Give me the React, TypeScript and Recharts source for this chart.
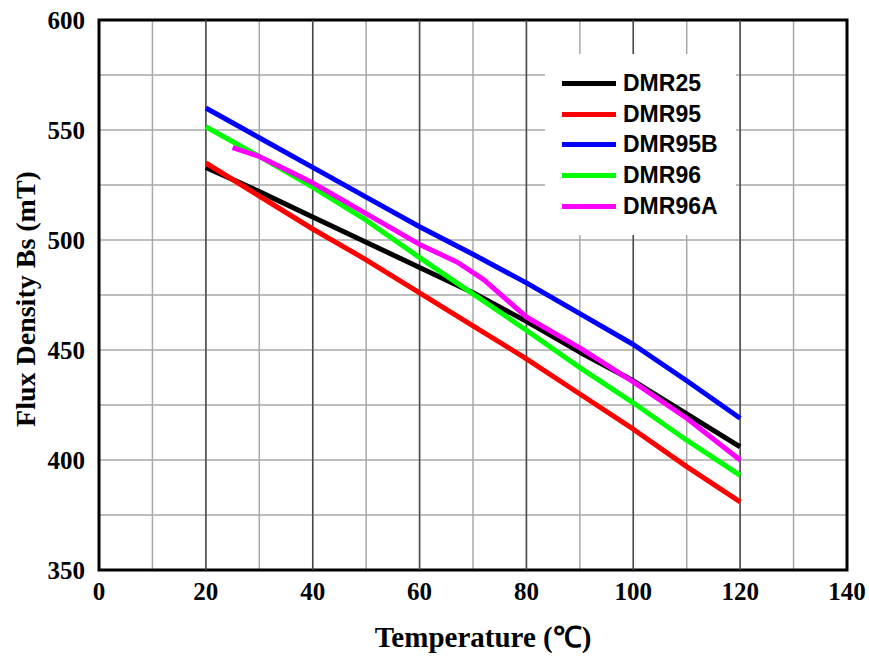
import React from 'react';
import {
  LineChart,
  Line,
  XAxis,
  YAxis,
  CartesianGrid,
  ReferenceLine,
  ReferenceArea,
  Legend,
} from 'recharts';

// temperature points (°C)
const temps = [20, 30, 40, 50, 60, 70, 80, 90, 100, 110, 120];
const temps96A = [25, 30, 40, 50, 60, 67, 72, 80, 90, 100, 110, 120];

// flux density Bs (mT)
const dmr25 = [533, 522, 510.5, 499, 487.5, 476, 463, 449, 436, 421, 406];
const dmr95 = [535, 520, 505, 491, 476, 461, 446, 430, 414, 397, 381];
const dmr95B = [560, 546.5, 533, 519.5, 506, 493.5, 480.5, 466.5, 452.5, 436, 419];
const dmr96 = [551.5, 538, 524, 509, 492, 475.5, 459, 442, 426, 409, 393];
const dmr96A = [542, 538, 526, 512, 498, 490, 482, 465, 451, 435.5, 419, 400];

const xTicks = [0, 10, 20, 30, 40, 50, 60, 70, 80, 90, 100, 110, 120, 130, 140];
const xMajor = [20, 40, 60, 80, 100, 120];
const yTicks = [350, 375, 400, 425, 450, 475, 500, 525, 550, 575, 600];

const toRows = (xs: number[], ys: number[]) => xs.map((t, i) => ({ t, bs: ys[i] }));

const series = [
  { name: 'DMR25', color: '#000000', data: toRows(temps, dmr25) },
  { name: 'DMR95', color: '#ff0000', data: toRows(temps, dmr95) },
  { name: 'DMR95B', color: '#0000ff', data: toRows(temps, dmr95B) },
  { name: 'DMR96', color: '#00ff00', data: toRows(temps, dmr96) },
  { name: 'DMR96A', color: '#ff00ff', data: toRows(temps96A, dmr96A) },
];

const serif = "'Times New Roman', 'Liberation Serif', serif";
const tickStyle = { fontFamily: serif, fontWeight: 700, fontSize: 25, fill: '#000' };

const renderLegend = (props: any) => {
  const { payload } = props;
  return (
    <div style={{ background: '#fff', width: '100%', height: '100%', paddingTop: 14, boxSizing: 'border-box' }}>
      {payload.map((entry: any) => (
        <div key={entry.value} style={{ display: 'flex', alignItems: 'center', height: 30.75 }}>
          <div style={{ marginLeft: 17, width: 54, height: 5, background: entry.color }} />
          <span
            style={{
              marginLeft: 7,
              fontFamily: "Arial, 'Liberation Sans', sans-serif",
              fontWeight: 700,
              fontSize: 23,
              color: '#000',
              lineHeight: 1,
            }}
          >
            {entry.value}
          </span>
        </div>
      ))}
    </div>
  );
};

const YLabel = (props: any) => {
  const { viewBox } = props;
  const x = viewBox.x + 35;
  const y = viewBox.y + viewBox.height / 2 + 4;
  return (
    <text
      x={x}
      y={y}
      transform={`rotate(-90 ${x} ${y})`}
      textAnchor="middle"
      style={{ fontFamily: serif, fontWeight: 700, fontSize: 28, fill: '#000' }}
    >
      Flux Density Bs (mT)
    </text>
  );
};

const XLabel = (props: any) => {
  const { viewBox } = props;
  const x = viewBox.x + viewBox.width / 2 + 10;
  const y = viewBox.y + viewBox.height - 10;
  return (
    <text x={x} y={y} textAnchor="middle" style={{ fontFamily: serif, fontWeight: 700, fontSize: 29, fill: '#000' }}>
      Temperature (℃)
    </text>
  );
};

export default function App() {
  return (
    <div style={{ position: 'fixed', left: 0, top: 0, width: 869, height: 657, background: '#fff' }}>
      <LineChart width={869} height={657} margin={{ top: 20, right: 22, bottom: 0, left: 0 }}>
        <CartesianGrid stroke="#a8a8a8" strokeWidth={1.5} />
        <XAxis
          dataKey="t"
          type="number"
          domain={[0, 140]}
          ticks={xTicks}
          tickFormatter={(v: number) => (v % 20 === 0 ? String(v) : '')}
          axisLine={false}
          tickLine={false}
          tickSize={10}
          tickMargin={2}
          height={87}
          tick={tickStyle}
          interval={0}
          allowDuplicatedCategory={false}
          label={<XLabel />}
        />
        <YAxis
          type="number"
          domain={[350, 600]}
          ticks={yTicks}
          tickFormatter={(v: number) => (v % 50 === 0 ? String(v) : '')}
          axisLine={false}
          tickLine={false}
          tickSize={12}
          tickMargin={2}
          width={99}
          tick={tickStyle}
          interval={0}
          label={<YLabel />}
        />
        {xMajor.map((v) => (
          <ReferenceLine key={v} x={v} stroke="#4a4a4a" strokeWidth={1.5} />
        ))}
        <ReferenceArea x1={0} x2={140} y1={350} y2={600} fill="none" stroke="#000" strokeWidth={3} ifOverflow="visible" />
        {series.map((s) => (
          <Line
            key={s.name}
            data={s.data}
            dataKey="bs"
            name={s.name}
            type="linear"
            stroke={s.color}
            strokeWidth={5}
            strokeLinejoin="round"
            dot={false}
            activeDot={false}
            isAnimationActive={false}
          />
        ))}
        <Legend
          layout="vertical"
          align="center"
          verticalAlign="middle"
          wrapperStyle={{ position: 'absolute', left: 545, top: 54, width: 191, height: 181 }}
          content={renderLegend}
        />
      </LineChart>
    </div>
  );
}
